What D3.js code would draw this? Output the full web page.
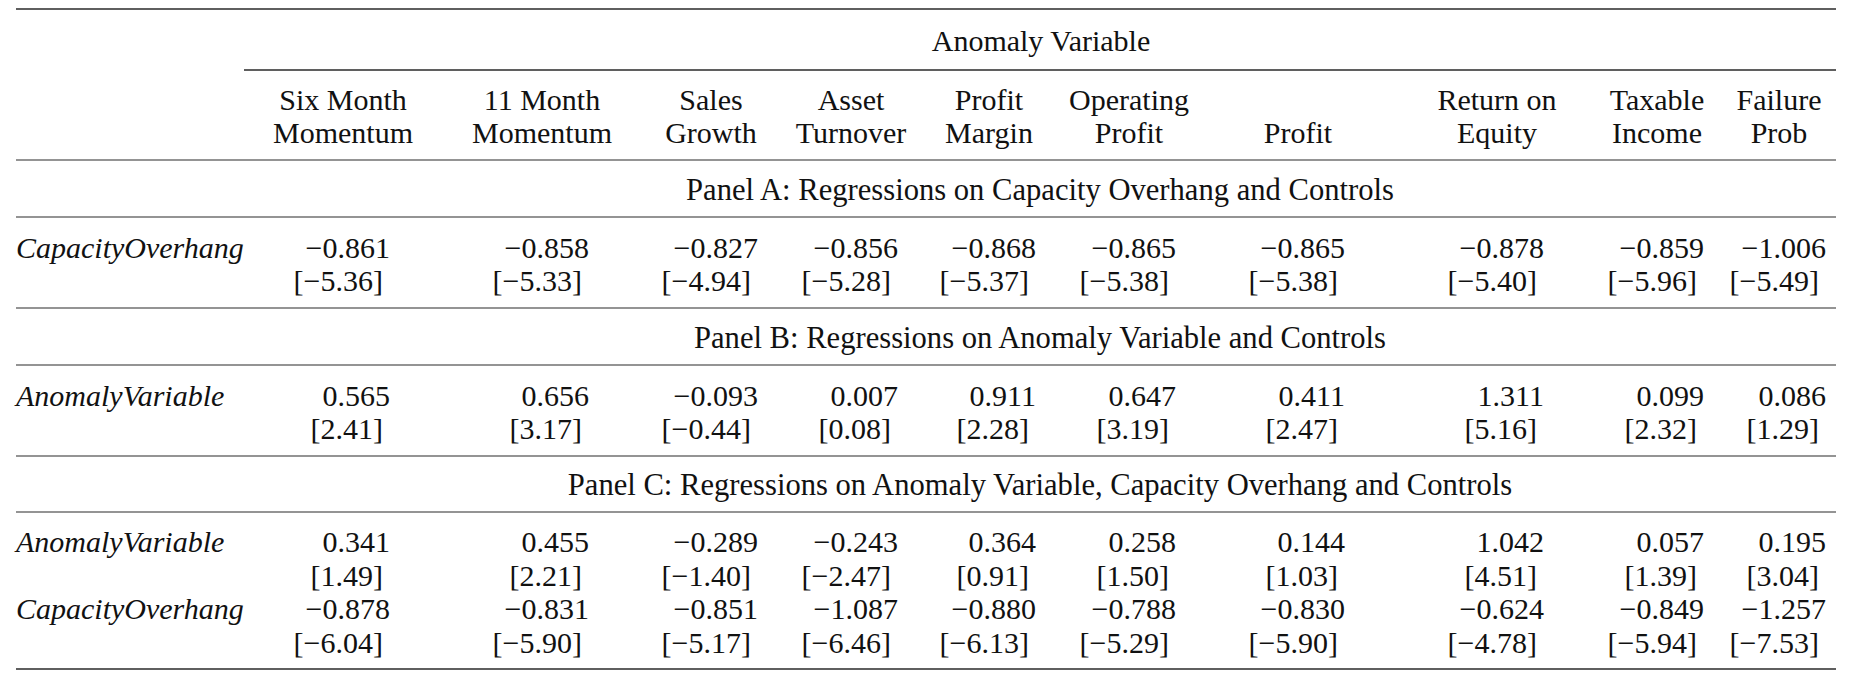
<!DOCTYPE html>
<html><head><meta charset="utf-8">
<script src="https://cdn.jsdelivr.net/npm/d3@7"></script>
<style>
body{margin:0;background:#fff}
text{font-family:"Liberation Serif","Times New Roman",serif;font-size:30px;fill:#111}
</style>
</head><body>
<svg id="chart" width="1850" height="685"></svg>
<script>
// ---- data ----
const columns = ["Six Month Momentum","11 Month Momentum","Sales Growth","Asset Turnover","Profit Margin","Operating Profit","Profit","Return on Equity","Taxable Income","Failure Prob"];
const headerLine1 = ["Six Month","11 Month","Sales","Asset","Profit","Operating","","Return on","Taxable","Failure"];
const headerLine2 = ["Momentum","Momentum","Growth","Turnover","Margin","Profit","Profit","Equity","Income","Prob"];
const spannerLabel = "Anomaly Variable";
const panelTitles = [
  "Panel A: Regressions on Capacity Overhang and Controls",
  "Panel B: Regressions on Anomaly Variable and Controls",
  "Panel C: Regressions on Anomaly Variable, Capacity Overhang and Controls"
];
const rowLabels = ["CapacityOverhang","AnomalyVariable"];

const panelA_capCoef = [-0.861,-0.858,-0.827,-0.856,-0.868,-0.865,-0.865,-0.878,-0.859,-1.006];
const panelA_capT    = [-5.36,-5.33,-4.94,-5.28,-5.37,-5.38,-5.38,-5.40,-5.96,-5.49];
const panelB_anomCoef = [0.565,0.656,-0.093,0.007,0.911,0.647,0.411,1.311,0.099,0.086];
const panelB_anomT    = [2.41,3.17,-0.44,0.08,2.28,3.19,2.47,5.16,2.32,1.29];
const panelC_anomCoef = [0.341,0.455,-0.289,-0.243,0.364,0.258,0.144,1.042,0.057,0.195];
const panelC_anomT    = [1.49,2.21,-1.40,-2.47,0.91,1.50,1.03,4.51,1.39,3.04];
const panelC_capCoef  = [-0.878,-0.831,-0.851,-1.087,-0.880,-0.788,-0.830,-0.624,-0.849,-1.257];
const panelC_capT     = [-6.04,-5.90,-5.17,-6.46,-6.13,-5.29,-5.90,-4.78,-5.94,-7.53];

// ---- layout ----
const svg = d3.select("#chart");
const left = 16, right = 1836, spanLeft = 244;
const x = d3.scaleOrdinal().domain(columns)
  .range([343,542,711,851,989,1129,1298,1497,1657,1779]); // column centres
const numOffset = 47, brOffset = 40;

const y = d3.scaleOrdinal()
  .domain(["ruleTop","spanner","ruleSpan","head1","head2","ruleHead",
           "titleA","ruleA","aCoef","aT","ruleA2",
           "titleB","ruleB","bCoef","bT","ruleB2",
           "titleC","ruleC","cAnomCoef","cAnomT","cCapCoef","cCapT","ruleBottom"])
  .range([9,51,70,110,143,160,
          200,217,258,291,308,
          348,365,406,439,456,
          495,512,552,586,619,653,669]);

const fmtC = d3.format(".3f"), fmtT = d3.format(".2f");

// rules
const rules = [
  {k:"ruleTop",x1:left,w:1.3},{k:"ruleSpan",x1:spanLeft,w:1.5},{k:"ruleHead",x1:left,w:1.2},
  {k:"ruleA",x1:left,w:1.2},{k:"ruleA2",x1:left,w:1.2},{k:"ruleB",x1:left,w:1.2},
  {k:"ruleB2",x1:left,w:1.2},{k:"ruleC",x1:left,w:1.2},{k:"ruleBottom",x1:left,w:1.3}
];
svg.selectAll("line.rule").data(rules).join("line").attr("class","rule")
  .attr("x1",d=>d.x1).attr("x2",right)
  .attr("y1",d=>y(d.k)).attr("y2",d=>y(d.k))
  .attr("stroke","#2a2a2a").attr("stroke-width",d=>d.w);

// spanner
svg.append("text").attr("x",1041).attr("y",y("spanner"))
  .attr("text-anchor","middle").text(spannerLabel);

// headers
svg.selectAll("text.h1").data(columns).join("text").attr("class","h1")
  .attr("x",d=>x(d)).attr("y",y("head1")).attr("text-anchor","middle")
  .text((d,i)=>headerLine1[i]);
svg.selectAll("text.h2").data(columns).join("text").attr("class","h2")
  .attr("x",d=>x(d)).attr("y",y("head2")).attr("text-anchor","middle")
  .text((d,i)=>headerLine2[i]);

// panel titles
const titleCenter = 1040;
[["titleA",0],["titleB",1],["titleC",2]].forEach(([k,i])=>{
  svg.append("text").attr("x",titleCenter).attr("y",y(k))
    .attr("text-anchor","middle").style("font-size","30.6px").text(panelTitles[i]);
});

// body rows
const rows = [
  {label:rowLabels[0], coef:panelA_capCoef, t:panelA_capT, yc:"aCoef", yt:"aT"},
  {label:rowLabels[1], coef:panelB_anomCoef, t:panelB_anomT, yc:"bCoef", yt:"bT"},
  {label:rowLabels[1], coef:panelC_anomCoef, t:panelC_anomT, yc:"cAnomCoef", yt:"cAnomT"},
  {label:rowLabels[0], coef:panelC_capCoef, t:panelC_capT, yc:"cCapCoef", yt:"cCapT"}
];
rows.forEach((r,ri)=>{
  const g = svg.append("g").attr("class","row"+ri);
  g.append("text").attr("x",left).attr("y",y(r.yc))
    .style("font-style","italic").text(r.label);
  g.selectAll("text.coef").data(columns).join("text").attr("class","coef")
    .attr("x",d=>x(d)+numOffset).attr("y",y(r.yc)).attr("text-anchor","end")
    .text((d,i)=>fmtC(r.coef[i]));
  g.selectAll("text.tstat").data(columns).join("text").attr("class","tstat")
    .attr("x",d=>x(d)+brOffset).attr("y",y(r.yt)).attr("text-anchor","end")
    .text((d,i)=>"["+fmtT(r.t[i])+"]");
});
</script>
</body></html>
